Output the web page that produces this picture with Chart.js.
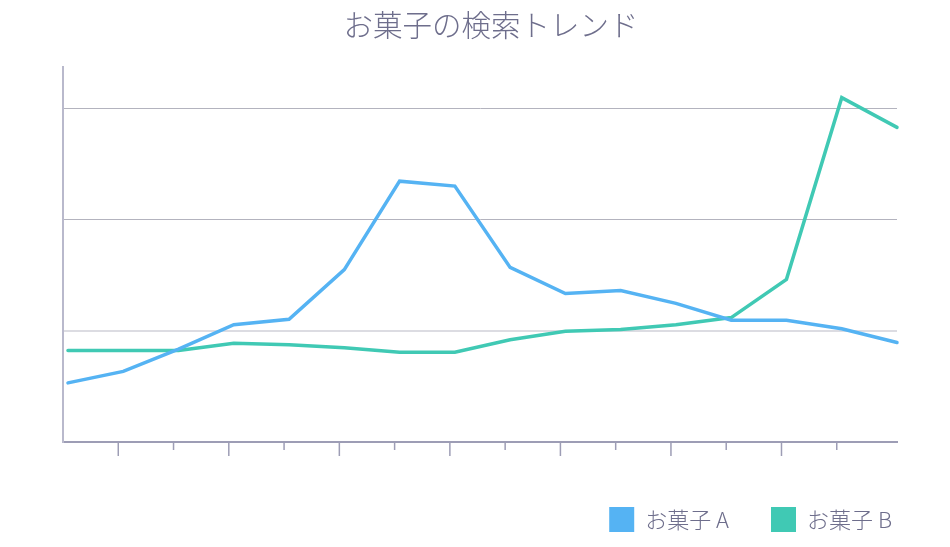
<!DOCTYPE html>
<html lang="ja">
<head>
<meta charset="utf-8">
<title>お菓子の検索トレンド</title>
<script src="https://cdn.jsdelivr.net/npm/chart.js@4.4.1/dist/chart.umd.min.js"></script>
<style>
  html, body { margin: 0; padding: 0; background: #ffffff; }
  #wrap { width: 950px; height: 547px; position: relative; }
</style>
</head>
<body>
<div id="wrap"><canvas id="c"></canvas></div>
<script>
// ---- data ----
const titleText = 'お菓子の検索トレンド';
const periods = ['1','2','3','4','5','6','7','8','9','10','11','12','13','14','15','16'];
const seriesNames = ['お菓子 A', 'お菓子 B'];
const sweetsA = [13.3, 15.9, 20.9, 26.4, 27.6, 38.8, 58.7, 57.6, 39.3, 33.4, 34.1, 31.2, 27.4, 27.4, 25.5, 22.4];
const sweetsB = [20.6, 20.6, 20.6, 22.2, 21.9, 21.2, 20.2, 20.2, 23.0, 24.9, 25.3, 26.4, 28.0, 36.6, 77.5, 70.8];
const yTicks = [0, 25, 50, 75];
const xTicks = [1,2,3,4,5,6,7,8,9,10,11,12,13,14];

// ---- style ----
const colorA = '#55b3f3';
const colorB = '#40c9b4';
const textColor = '#6e6e8c';
const X_SHIFT = 0.09;
const Y_MAX = 84.3;
const TITLE_OFFSET = 11;

const toPoints = vals => vals.map((v, i) => ({ x: i + X_SHIFT, y: v }));

const tickMarks = {
  id: 'tickMarks',
  afterLayout(chart) {
    const t = chart.titleBlock;
    if (t) { t.left += TITLE_OFFSET; t.right += TITLE_OFFSET; }
  },
  afterDraw(chart) {
    const s = chart.scales.x, ctx = chart.ctx, y0 = chart.chartArea.bottom;
    ctx.save();
    ctx.strokeStyle = '#9d9db5';
    ctx.lineWidth = 1.5;
    xTicks.forEach(v => {
      const px = s.getPixelForValue(v);
      const len = (v % 2 === 1) ? 14 : 8;
      ctx.beginPath();
      ctx.moveTo(px, y0);
      ctx.lineTo(px, y0 + len);
      ctx.stroke();
    });
    ctx.restore();
  }
};

new Chart(document.getElementById('c'), {
  type: 'line',
  data: {
    datasets: [
      { label: seriesNames[0], data: toPoints(sweetsA), borderColor: colorA, backgroundColor: colorA,
        borderWidth: 3.5, pointRadius: 0, tension: 0, clip: false, borderCapStyle: 'round', borderJoinStyle: 'miter' },
      { label: seriesNames[1], data: toPoints(sweetsB), borderColor: colorB, backgroundColor: colorB,
        borderWidth: 3.5, pointRadius: 0, tension: 0, clip: false, borderCapStyle: 'round', borderJoinStyle: 'miter' }
    ]
  },
  options: {
    responsive: true,
    maintainAspectRatio: false,
    animation: false,
    layout: { padding: { left: 13, right: 16, top: 0, bottom: 5 } },
    plugins: {
      title: {
        display: true,
        fullSize: false,
        text: titleText,
        color: textColor,
        font: { family: "'Noto Sans CJK JP', 'Noto Sans', sans-serif", size: 29.5, weight: '300', lineHeight: 1.2 },
        padding: { top: 7, bottom: 25 }
      },
      legend: {
        display: true,
        position: 'bottom',
        align: 'end',
        labels: {
          color: textColor,
          boxWidth: 25,
          boxHeight: 25,
          padding: 42,
          font: { family: "'Noto Sans CJK JP', 'Noto Sans', sans-serif", size: 22, weight: '300' },
          generateLabels(chart) {
            return chart.data.datasets.map((ds, i) => ({
              text: ds.label, fillStyle: ds.backgroundColor, strokeStyle: ds.backgroundColor,
              lineWidth: 0, hidden: false, datasetIndex: i, fontColor: textColor
            }));
          }
        }
      },
      tooltip: { enabled: false }
    },
    scales: {
      x: {
        type: 'linear',
        min: 0,
        max: periods.length - 1 + X_SHIFT,
        afterBuildTicks(s) { s.ticks = xTicks.map(v => ({ value: v })); },
        afterFit(s) { s.height = 23; },
        ticks: { display: false },
        grid: { display: false },
        border: { display: true, color: '#9d9db5', width: 2 }
      },
      y: {
        type: 'linear',
        min: 0,
        max: Y_MAX,
        afterBuildTicks(s) { s.ticks = yTicks.map(v => ({ value: v })); },
        afterFit(s) { s.width = 50; },
        ticks: { display: false },
        grid: {
          drawTicks: false,
          color: c => c.tick && c.tick.value === 0 ? 'rgba(0,0,0,0)' : (c.tick && c.tick.value === 25 ? '#dcdce2' : '#b3b3be'),
          lineWidth: c => c.tick && c.tick.value === 25 ? 2 : 1
        },
        border: { display: true, color: '#b9b9cc', width: 2 }
      },
      spacer: {
        type: 'linear',
        position: 'right',
        display: true,
        afterFit(s) { s.width = 37; },
        ticks: { display: false },
        grid: { display: false },
        border: { display: false }
      }
    }
  },
  plugins: [tickMarks]
});
</script>
</body>
</html>
